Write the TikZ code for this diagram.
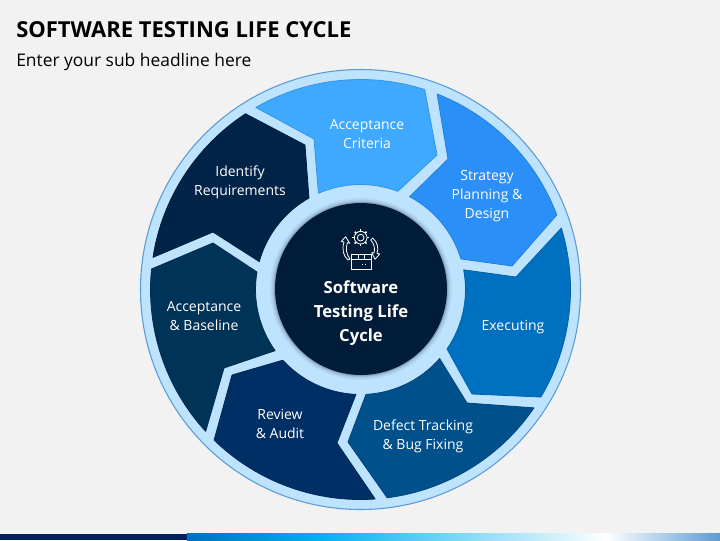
\documentclass[tikz,border=0pt]{standalone}
\usepackage{fontspec}
\setmainfont{Open Sans}
\usetikzlibrary{positioning}

\begin{document}
\begin{tikzpicture}[x=0.75pt,y=0.75pt]

	\definecolor{pagegray}{RGB}{242,242,242}
	\definecolor{ringlight}{RGB}{189,227,255}
	\definecolor{ringedge}{RGB}{91,155,213}
	\definecolor{criteriablue}{RGB}{63,169,255}
	\definecolor{strategyblue}{RGB}{43,143,248}
	\definecolor{executingblue}{RGB}{0,112,192}
	\definecolor{defectblue}{RGB}{0,80,140}
	\definecolor{reviewblue}{RGB}{0,47,102}
	\definecolor{baselineblue}{RGB}{0,51,88}
	\definecolor{identifyblue}{RGB}{0,35,71}
	\definecolor{hubblue}{RGB}{0,28,56}
	\definecolor{barnavy}{RGB}{0,32,96}
	\definecolor{barcyan}{RGB}{0,176,240}

	\tikzset{seg/.style = {fill=#1,draw=#1!88!black,line width=0.6pt,line join=round}}
	\tikzset{seglabel/.style = {text=white,align=center,font=\fontsize{10.5}{14.25}\selectfont}}
	\tikzset{hublabel/.style = {text=white,align=center,font=\fontsize{12.5}{18}\selectfont\bfseries}}
	\tikzset{icon/.style = {draw=white,line width=0.6pt,line join=round}}

	\useasboundingbox (-360.5,-250.5) rectangle (359.5,289.5);
	\fill[pagegray] (-360.5,-250.5) rectangle (359.5,289.5);

	% headline
	\node[anchor=base west,inner sep=0pt,font=\fontsize{16.5}{20}\selectfont\bfseries] (title) at (-344.5,252.5) {SOFTWARE TESTING LIFE CYCLE};
	\node[anchor=base west,inner sep=0pt,font=\fontsize{13.05}{16}\selectfont] (subtitle) at (-344.5,223.5) {Enter your sub headline here};

	% ring
	\filldraw[fill=ringlight,draw=ringedge,line width=0.8pt] (0,0) circle (220);

	% segments
	\filldraw[seg=criteriablue] (119.9:210) arc[start angle=119.9,end angle=72.2,radius=210] -- (76.5,134.5) -- (69.2:105) arc[start angle=69.2,end angle=113.6,radius=105] -- (-46.5,150.5) -- cycle;
	\filldraw[seg=strategyblue] (68.6:210) arc[start angle=68.6,end angle=20.8,radius=210] -- (151.5,23.5) -- (16.9:105) arc[start angle=16.9,end angle=62.1,radius=105] -- (87.5,130.5) -- cycle;
	\filldraw[seg=executingblue] (17:210) arc[start angle=17,end angle=-30.8,radius=210] -- (111.5,-104.5) -- (-34.5:105) arc[start angle=-34.5,end angle=10.8,radius=105] -- (155.5,12.5) -- cycle;
	\filldraw[seg=defectblue] (-34.3:210) arc[start angle=-34.3,end angle=-82.7,radius=210] -- (-12.5,-152.5) -- (-87:105) arc[start angle=-87,end angle=-41.1,radius=105] -- (106.5,-113.5) -- cycle;
	\filldraw[seg=reviewblue] (-86:210) arc[start angle=-86,end angle=-134.2,radius=210] -- (-128.5,-85.5) -- (-137.7:105) arc[start angle=-137.7,end angle=-92.5,radius=105] -- (-23.5,-153.5) -- cycle;
	\filldraw[seg=baselineblue] (-137.5:210) arc[start angle=-137.5,end angle=-185.6,radius=210] -- (-147.5,46.5) -- (-189.6:105) arc[start angle=-189.6,end angle=-144.4,radius=105] -- (-136.5,-78.5) -- cycle;
	\filldraw[seg=identifyblue] (123.2:210) arc[start angle=123.2,end angle=171.2,radius=210] -- (-147.5,57.5) -- (164.6:105) arc[start angle=164.6,end angle=119.4,radius=105] -- (-55.5,144.5) -- cycle;

	% hub with soft edge
	\foreach \rad/\op in {91/0.04,89.5/0.06,88/0.09,87/0.12}
		\fill[black,opacity=\op] (0.5,0.5) circle (\rad);
	\fill[hubblue] (0.5,0.5) circle (86);

	% icon
	\begin{scope}[shift={(-30.5,69.5)},x=0.25pt,y=-0.25pt]
		\draw[icon] (92,53) circle (19);
		\draw[icon] (92,53) circle (10);
		\foreach \ang in {0,45,...,315}
			\draw[icon,line width=1.2pt] (92,53) ++(\ang:19) -- ++(\ang:6);
		\draw[icon] (63,103) rectangle (125,147);
		\draw[icon] (63,119) -- (125,119);
		\draw[icon] (84,103) -- (84,119) (104,103) -- (104,119);
		\draw[icon,dotted] (96,133) -- (116,133);
		\draw[icon] (60,117) .. controls (48,102) and (47,85) .. (52,68) -- (59,70) -- (47,50) -- (34,64) -- (42,66) .. controls (35,88) and (40,108) .. (54,120) -- cycle;
		\draw[icon] (128,54) .. controls (142,66) and (147,85) .. (141,100) -- (149,102) -- (135,118) -- (125,98) -- (132,99) .. controls (136,85) and (132,70) .. (122,60) -- cycle;
	\end{scope}

	% labels
	\node[seglabel] (criteria) at (6.5,155) {Acceptance\\Criteria};
	\node[seglabel] (strategy) at (126.5,93.5) {Strategy\\Planning \&\\Design};
	\node[seglabel] (executing) at (152.5,-38) {Executing};
	\node[seglabel] (defect) at (62.5,-146.5) {Defect Tracking\\\& Bug Fixing};
	\node[seglabel] (review) at (-80.5,-134.5) {Review\\\& Audit};
	\node[seglabel] (baseline) at (-156.5,-26.5) {Acceptance\\\& Baseline};
	\node[seglabel] (identify) at (-120.5,107.5) {Identify\\Requirements};
	\node[hublabel] (hub) at (0.5,-23.5) {Software\\Testing Life\\Cycle};

	% bottom bar
	\fill[barnavy] (-360.5,-250.5) rectangle (-173.5,-244);
	\fill[left color=executingblue,right color=barcyan] (-173.5,-250.5) rectangle (-44.5,-244);
	\fill[left color=barcyan,right color=white] (-44.5,-250.5) rectangle (245.5,-244);
	\fill[left color=white,right color=ringedge] (245.5,-250.5) rectangle (359.5,-244);

\end{tikzpicture}
\end{document}
